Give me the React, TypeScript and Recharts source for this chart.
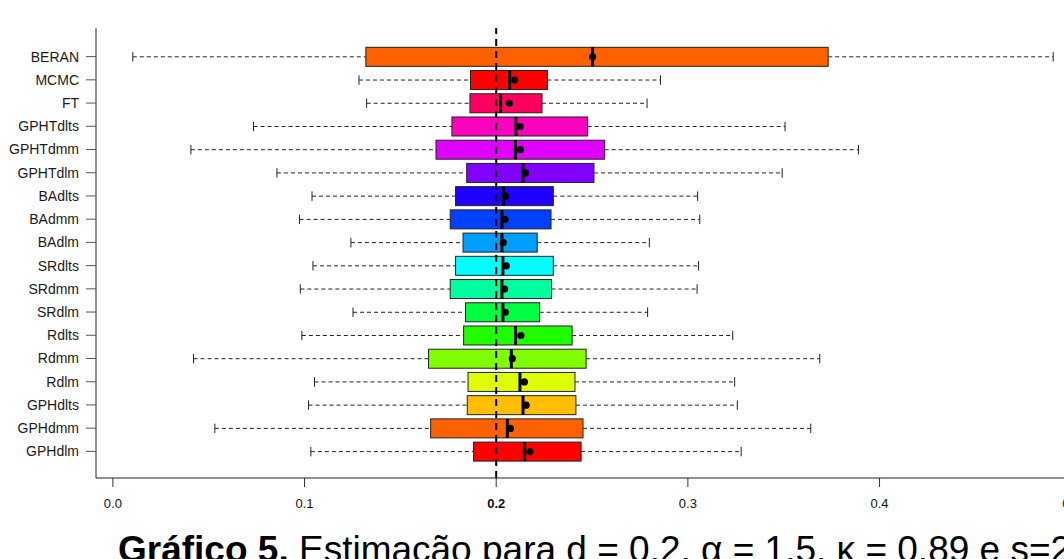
import React from 'react';
import { ComposedChart, Bar, XAxis, YAxis, ReferenceLine } from 'recharts';

const categories = ['BERAN', 'MCMC', 'FT', 'GPHTdlts', 'GPHTdmm', 'GPHTdlm', 'BAdlts', 'BAdmm', 'BAdlm', 'SRdlts', 'SRdmm', 'SRdlm', 'Rdlts', 'Rdmm', 'Rdlm', 'GPHdlts', 'GPHdmm', 'GPHdlm'];
const mins = [0.0104, 0.1284, 0.1324, 0.0734, 0.0407, 0.0856, 0.1039, 0.0974, 0.1242, 0.1044, 0.0978, 0.1253, 0.0986, 0.0421, 0.1052, 0.1021, 0.0532, 0.1033];
const q1s = [0.132, 0.1866, 0.1863, 0.1769, 0.1686, 0.1846, 0.1788, 0.176, 0.1827, 0.1788, 0.176, 0.184, 0.183, 0.1647, 0.1853, 0.1849, 0.1658, 0.1882];
const medians = [0.2503, 0.207, 0.2023, 0.2103, 0.21, 0.214, 0.2039, 0.203, 0.203, 0.2035, 0.203, 0.2035, 0.2101, 0.2079, 0.2124, 0.214, 0.2058, 0.2148];
const q3s = [0.3732, 0.2267, 0.2239, 0.2477, 0.2566, 0.251, 0.2298, 0.2286, 0.2214, 0.2298, 0.2289, 0.2227, 0.2396, 0.2469, 0.2411, 0.2416, 0.2453, 0.2443];
const maxs = [0.4906, 0.2857, 0.2787, 0.3507, 0.389, 0.3492, 0.3051, 0.3062, 0.2799, 0.3056, 0.3048, 0.279, 0.3234, 0.3688, 0.3244, 0.3258, 0.3641, 0.3278];
const means = [0.2503, 0.2096, 0.2068, 0.2126, 0.2126, 0.2153, 0.2049, 0.2046, 0.2037, 0.2053, 0.2044, 0.2048, 0.2129, 0.2084, 0.2147, 0.2156, 0.2074, 0.2176];
const colors = ['#FF6000', '#FF0000', '#FF0060', '#FF00BF', '#DF00FF', '#8000FF', '#2000FF', '#0040FF', '#009FFF', '#00FFFF', '#00FF9F', '#00FF40', '#20FF00', '#80FF00', '#DFFF00', '#FFBF00', '#FF6000', '#FF0000'];
const xTicks = [0, 0.1, 0.2, 0.3, 0.4, 0.5];
const referenceValue = 0.2;
const xDomain: [number, number] = [-0.0088, 0.5098];

const data = categories.map((name, i) => ({
  name,
  range: [mins[i], maxs[i]],
  min: mins[i],
  q1: q1s[i],
  median: medians[i],
  q3: q3s[i],
  max: maxs[i],
  mean: means[i],
  color: colors[i],
}));

const BoxShape = (props: any) => {
  const { x, y, width, height, payload } = props;
  if (!payload) return null;
  const { min, q1, median, q3, max, mean, color } = payload;
  const px = (v: number) => x + ((v - min) / (max - min)) * width;
  const cy = y + height / 2;
  const capH = height / 2;
  return (
    <g>
      <line x1={px(min)} x2={px(q1)} y1={cy} y2={cy} stroke="#222" strokeWidth={1} strokeDasharray="4 3" />
      <line x1={px(q3)} x2={px(max)} y1={cy} y2={cy} stroke="#222" strokeWidth={1} strokeDasharray="4 3" />
      <line x1={px(min)} x2={px(min)} y1={cy - capH / 2} y2={cy + capH / 2} stroke="#222" strokeWidth={1} />
      <line x1={px(max)} x2={px(max)} y1={cy - capH / 2} y2={cy + capH / 2} stroke="#222" strokeWidth={1} />
      <rect x={px(q1)} y={y} width={px(q3) - px(q1)} height={height} fill={color} stroke="#222" strokeWidth={1} />
      <line x1={px(median)} x2={px(median)} y1={y} y2={y + height} stroke="#000" strokeWidth={3} />
      <circle cx={px(mean)} cy={cy} r={3.6} fill="#000" />
    </g>
  );
};

const XTick = (props: any) => {
  const { x, y, payload } = props;
  const v = payload.value;
  return (
    <text
      x={x}
      y={y}
      dy={19}
      textAnchor="middle"
      fontSize={13}
      fontFamily="'Liberation Sans Narrow', 'Liberation Sans', Arial, sans-serif"
      fontWeight={Math.abs(v - referenceValue) < 1e-9 ? 'bold' : 'normal'}
      fill="#111"
    >
      {v.toFixed(1)}
    </text>
  );
};

export default function App() {
  return (
    <div style={{ position: 'absolute', left: 0, top: 0, width: 1064, height: 559, overflow: 'hidden', background: '#fff' }}>
      <ComposedChart
        width={1120}
        height={559}
        data={data}
        layout="vertical"
        margin={{ top: 28, right: 30, left: 0, bottom: 51 }}
        barCategoryGap="10%"
      >
        <XAxis
          type="number"
          domain={xDomain}
          ticks={xTicks}
          allowDataOverflow
          axisLine={{ stroke: '#222' }}
          tickLine={{ stroke: '#333' }}
          tickSize={9}
          tick={<XTick />}
          height={30}
          interval={0}
        />
        <XAxis
          xAxisId="top"
          orientation="top"
          type="number"
          domain={xDomain}
          allowDataOverflow
          axisLine={{ stroke: '#222' }}
          tick={false}
          tickLine={false}
          height={0}
        />
        <YAxis
          type="category"
          dataKey="name"
          width={96}
          axisLine={{ stroke: '#222' }}
          tickLine={{ stroke: '#555' }}
          tickSize={10}
          tickMargin={7}
          interval={0}
          padding={{ top: 17, bottom: 15 }}
          tick={{ fontSize: 14, fill: '#1a1a1a', fontFamily: "'Liberation Sans', Arial, sans-serif" }}
        />
        <Bar dataKey="range" shape={<BoxShape />} isAnimationActive={false} />
        <ReferenceLine x={referenceValue} stroke="#000" strokeWidth={2} strokeDasharray="7 5" />
      </ComposedChart>
      <div
        style={{
          position: 'absolute',
          left: 118,
          top: 531,
          fontSize: 37,
          lineHeight: '37px',
          fontFamily: "'Liberation Sans', Arial, sans-serif",
          color: '#000',
          whiteSpace: 'nowrap',
        }}
      >
        <b>Gráfico 5.</b> Estimação para d = 0.2, α = 1.5, κ = 0.89 e s=2
      </div>
    </div>
  );
}
